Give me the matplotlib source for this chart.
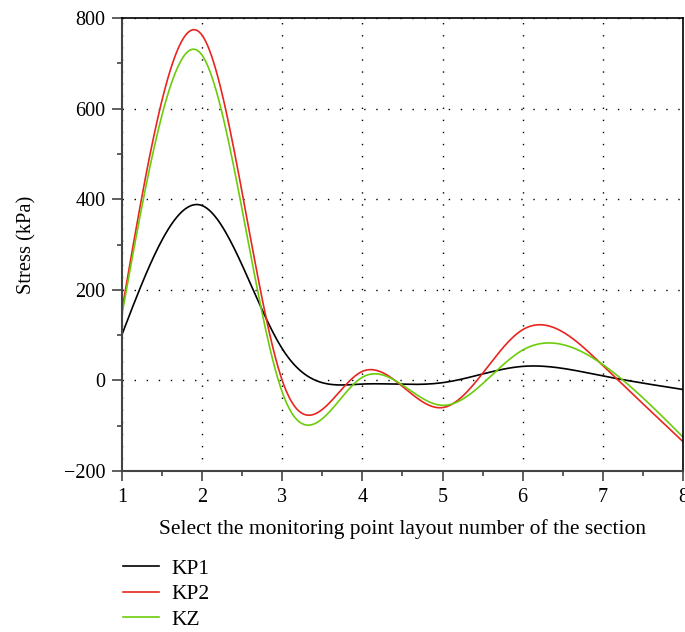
import numpy as np
import matplotlib
matplotlib.use('Agg')
import matplotlib.pyplot as plt
from matplotlib.ticker import MultipleLocator, FuncFormatter

plt.rcParams['font.family'] = ['Liberation Serif', 'DejaVu Serif']

# monitoring point numbers and stress values (kPa)
points = [1, 2, 3, 4, 5, 6, 7, 8]
kp1 = [101, 386, 70, -8, -5, 31, 10, -20]
kp2 = [155, 762, 0, 20, -60, 112, 33, -135]
kz = [145, 718, -26, 7, -55, 67, 35, -125]

series = [('KP1', kp1, 'black'), ('KP2', kp2, '#e8251f'), ('KZ', kz, '#6ccc0a')]


def natural_spline(x, y, n=400):
    # smooth line through the points, as in the source chart
    x = np.asarray(x, float)
    y = np.asarray(y, float)
    m = len(x)
    h = np.diff(x)
    A = np.zeros((m, m))
    b = np.zeros(m)
    A[0, 0] = A[-1, -1] = 1
    for i in range(1, m - 1):
        A[i, i - 1] = h[i - 1]
        A[i, i] = 2 * (h[i - 1] + h[i])
        A[i, i + 1] = h[i]
        b[i] = 3 * ((y[i + 1] - y[i]) / h[i] - (y[i] - y[i - 1]) / h[i - 1])
    c = np.linalg.solve(A, b)
    xs = np.linspace(x[0], x[-1], n)
    idx = np.clip(np.searchsorted(x, xs) - 1, 0, m - 2)
    dx = xs - x[idx]
    hi = h[idx]
    bb = (y[idx + 1] - y[idx]) / hi - hi * (2 * c[idx] + c[idx + 1]) / 3
    dd = (c[idx + 1] - c[idx]) / (3 * hi)
    return xs, y[idx] + bb * dx + c[idx] * dx ** 2 + dd * dx ** 3


fig = plt.figure(figsize=(6.85, 6.32), dpi=100)
ax = fig.add_axes([0.178, 0.2547, 0.819, 0.7168])

for name, vals, col in series:
    xs, ys = natural_spline(points, vals)
    ax.plot(xs, ys, color=col, linewidth=1.2, label=name)

ax.set_xlim(1, 8)
ax.set_ylim(-200, 800)
ax.xaxis.set_major_locator(MultipleLocator(1))
ax.xaxis.set_minor_locator(MultipleLocator(0.5))
ax.yaxis.set_major_locator(MultipleLocator(200))
ax.yaxis.set_minor_locator(MultipleLocator(100))
ax.tick_params(which='major', direction='out', length=7, width=1.2,
               labelsize=14.5, color='#444444', pad=5)
ax.tick_params(which='minor', direction='out', length=3.5, width=1.2, color='#444444')
ax.yaxis.set_major_formatter(FuncFormatter(lambda v, p: f'{int(v)}'.replace('-', '\u2212')))

ax.grid(True, which='major', color='black', linestyle=(0, (1, 7.7)), linewidth=1)

for side in ['left', 'bottom']:
    ax.spines[side].set_color('#444444')
    ax.spines[side].set_linewidth(1.5)
for side in ['top', 'right']:
    ax.spines[side].set_color('black')
    ax.spines[side].set_linewidth(1.2)

ax.set_ylabel('Stress (kPa)', fontsize=14.8, labelpad=20)
ax.set_xlabel('Select the monitoring point layout number of the section',
              fontsize=15.5, labelpad=9)

fig.legend(loc='upper left', bbox_to_anchor=(0.164, 0.133), frameon=False,
           fontsize=15.5, handlelength=1.65, labelspacing=0.25, borderpad=0,
           handletextpad=0.6)

plt.savefig('out.png', dpi=100)
